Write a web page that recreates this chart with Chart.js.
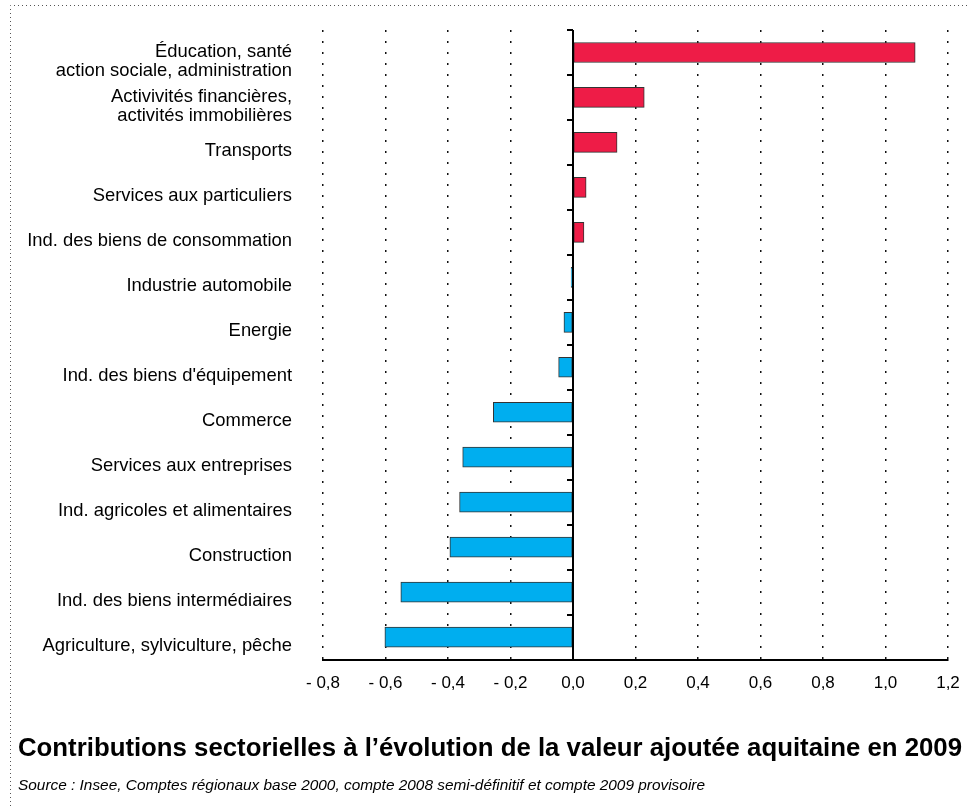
<!DOCTYPE html>
<html>
<head>
<meta charset="utf-8">
<script src="https://cdn.jsdelivr.net/npm/chart.js@4/dist/chart.umd.min.js"></script>
<style>
  html, body { margin: 0; padding: 0; background: #fff; }
  #wrap { width: 969px; height: 806px; position: relative; }
</style>
</head>
<body>
<div id="wrap"><canvas id="myChart"></canvas></div>
<script>
// sectors, top to bottom
const sectors = [
  ['Éducation, santé', 'action sociale, administration'],
  ['Activivités financières,', 'activités immobilières'],
  'Transports',
  'Services aux particuliers',
  'Ind. des biens de consommation',
  'Industrie automobile',
  'Energie',
  "Ind. des biens d'équipement",
  'Commerce',
  'Services aux entreprises',
  'Ind. agricoles et alimentaires',
  'Construction',
  'Ind. des biens intermédiaires',
  'Agriculture, sylviculture, pêche'
];
// contribution (points)
const contributions = [1.095, 0.228, 0.141, 0.042, 0.035, -0.006, -0.029, -0.046, -0.255, -0.353, -0.363, -0.394, -0.551, -0.602];
const xTicks = [-0.8, -0.6, -0.4, -0.2, 0, 0.2, 0.4, 0.6, 0.8, 1.0, 1.2];

const titleText = 'Contributions sectorielles à l\u2019évolution de la valeur ajoutée aquitaine en 2009';
const sourceText = 'Source : Insee, Comptes régionaux base 2000, compte 2008 semi-définitif et compte 2009 provisoire';

Chart.defaults.font.family = '"Liberation Sans", Arial, sans-serif';
Chart.defaults.color = '#111';

// dotted frame round the whole picture
const frame = {
  id: 'frame',
  beforeDraw(chart) {
    const c = chart.ctx;
    c.save();
    c.strokeStyle = '#555';
    c.lineWidth = 1;
    c.setLineDash([1, 3]);
    c.beginPath();
    c.moveTo(10.5, chart.height);
    c.lineTo(10.5, 5.5);
    c.lineTo(chart.width, 5.5);
    c.stroke();
    c.restore();
  }
};

// solid zero line with small ticks between categories
const zeroLine = {
  id: 'zeroLine',
  afterDatasetsDraw(chart) {
    const c = chart.ctx;
    const area = chart.chartArea;
    const x0 = chart.scales.x.getPixelForValue(0);
    const step = (area.bottom - area.top) / sectors.length;
    c.save();
    c.strokeStyle = '#000';
    c.lineWidth = 2;
    c.beginPath();
    c.moveTo(x0, area.top);
    c.lineTo(x0, area.bottom);
    for (let k = 0; k < sectors.length; k++) {
      const y = Math.round(area.top + k * step);
      c.moveTo(x0, y);
      c.lineTo(x0 - 6, y);
    }
    c.stroke();
    c.restore();
  }
};

const ctx = document.getElementById('myChart').getContext('2d');
const myChart = new Chart(ctx, {
  type: 'bar',
  data: {
    labels: sectors,
    datasets: [{
      data: contributions,
      backgroundColor: (c) => c.raw >= 0 ? '#EE1C47' : '#00AEEF',
      borderColor: '#333',
      borderWidth: 1,
      borderSkipped: false,
      barThickness: 20
    }]
  },
  options: {
    indexAxis: 'y',
    responsive: true,
    maintainAspectRatio: false,
    animation: false,
    layout: { padding: { top: 30, right: 7, left: 18, bottom: 0 } },
    plugins: {
      legend: { display: false },
      tooltip: { enabled: false },
      subtitle: {
        display: true,
        text: titleText,
        position: 'bottom',
        align: 'start',
        weight: 1000,
        color: '#000',
        font: { size: 26.3, weight: 'bold' },
        padding: { top: 25, bottom: 0 }
      },
      title: {
        display: true,
        text: sourceText,
        position: 'bottom',
        align: 'start',
        weight: 2000,
        color: '#000',
        font: { size: 15.4, style: 'italic', weight: 'normal' },
        padding: { top: 12, bottom: 11 }
      }
    },
    scales: {
      x: {
        min: -0.8,
        max: 1.2,
        afterBuildTicks: (axis) => { axis.ticks = xTicks.map(v => ({ value: v })); },
        afterFit: (axis) => { axis.paddingRight = 21; },
        grid: { color: '#111', lineWidth: 1.5, drawTicks: false },
        border: { display: true, color: '#000', width: 2, dash: [2, 9] },
        ticks: {
          padding: 14,
          font: { size: 17 },
          color: '#000',
          callback: (v) => {
            const s = Math.abs(v).toFixed(1).replace('.', ',');
            return v < -1e-9 ? '- ' + s : s;
          }
        }
      },
      y: {
        grid: { display: false, drawTicks: false },
        border: { display: false },
        afterFit: (axis) => { axis.width = 305; axis.paddingTop = 0; axis.paddingBottom = 0; },
        ticks: { padding: 31, labelOffset: 9, font: { size: 18.4, lineHeight: 1.0 }, color: '#000' }
      }
    }
  },
  plugins: [frame, zeroLine]
});
</script>
</body>
</html>
